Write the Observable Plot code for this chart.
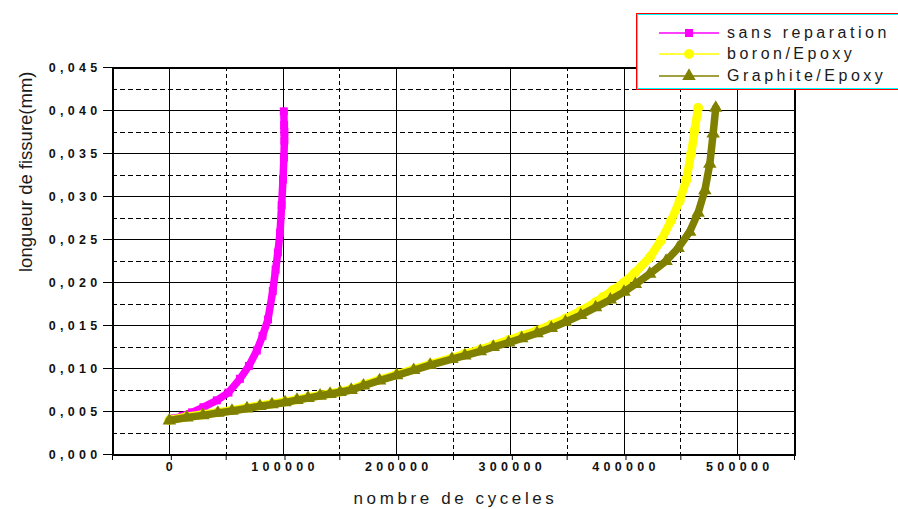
<!DOCTYPE html>
<html>
<head>
<meta charset="utf-8">
<script src="https://cdn.jsdelivr.net/npm/d3@7"></script>
<script src="https://cdn.jsdelivr.net/npm/@observablehq/plot@0.6"></script>
<style>
  body { margin: 0; background: #fff; }
  #wrap { position: relative; width: 898px; height: 509px; overflow: hidden; background: #fff;
          font-family: "Liberation Sans", Arial, sans-serif; }
  #wrap svg { display: block; }
  g[aria-label="x-axis tick label"] text,
  g[aria-label="y-axis tick label"] text { letter-spacing: 4.3px; }
  #legend { position: absolute; left: 636px; top: 13px; width: 290px; height: 77px;
            box-sizing: border-box; border: 1px solid #ff0000; background: #fff; }
  #legend .inner { position: absolute; left: 0; top: 0; right: 0; bottom: 0; border: 1.5px solid #00ffff; }
  .row { position: absolute; left: 0; height: 20px; display: flex; align-items: center; }
  .row svg { position: absolute; left: 21px; top: 0; }
  .row span { position: absolute; left: 90px; top: 0; line-height: 20px; font-size: 16px;
              letter-spacing: 3.5px; color: #1a1a1a; white-space: nowrap; }
</style>
</head>
<body>
<div id="wrap"></div>
<script>
// ---- data ----
const seriesNames = ["sans reparation", "boron/Epoxy", "Graphite/Epoxy"];
const seriesColors = ["#ff00ff", "#ffff00", "#808000"];
const seriesSymbols = ["square", "circle", "triangle"];

const sansN = [5000, 11900, 20000, 30000, 41800, 52000, 62100, 70000, 77000, 82000, 86800,
  91000, 93500, 95500, 97400, 98800, 100000, 100800, 101200, 101200, 101000, 100700];
const sansA = [0.0042, 0.0045, 0.0049, 0.0055, 0.0063, 0.0072, 0.0088, 0.0103, 0.0121, 0.0138, 0.0157,
  0.0190, 0.0215, 0.0235, 0.0258, 0.0290, 0.0320, 0.0345, 0.0365, 0.0375, 0.0383, 0.0399];

const boronN = [0, 15400, 29500, 42700, 55100, 68300, 79700, 90300, 101800, 112300, 122000, 132600,
  141400, 150300, 160000, 170800, 185000, 200000, 215000, 229500, 248600, 260000, 273600, 285000,
  298500, 310000, 323500, 336000, 348500, 362000, 375000, 381500, 390000, 400000, 409400, 422600,
  432600, 441500, 449000, 454700, 459100, 462200, 465200];
const boronA = [0.0040, 0.0044, 0.00465, 0.0049, 0.00515, 0.00545, 0.0057, 0.0059, 0.00615, 0.0064,
  0.00665, 0.0069, 0.0071, 0.0073, 0.0076, 0.0081, 0.0087, 0.0093, 0.0099, 0.0105, 0.0112, 0.0117,
  0.0122, 0.0127, 0.0133, 0.0138, 0.0144, 0.0151, 0.0158, 0.0167, 0.0177, 0.0183, 0.0191, 0.0200,
  0.0211, 0.0229, 0.0249, 0.0272, 0.0295, 0.0319, 0.0350, 0.0377, 0.0403];

const graphN = [0, 15400, 29500, 42700, 55100, 68300, 79700, 90300, 101800, 112300, 122000, 132600,
  141400, 150300, 160000, 170800, 185000, 200000, 215000, 229500, 248600, 260000, 273600, 285000,
  298500, 310000, 323500, 336000, 348500, 362000, 375000, 388000, 400000, 410000, 422600,
  437000, 447600, 457800, 465200, 471100, 475500, 478400, 480700];
const graphA = [0.00395, 0.0043, 0.00455, 0.00483, 0.00506, 0.00535, 0.00562, 0.00582, 0.00605,
  0.00632, 0.00656, 0.00683, 0.00703, 0.00724, 0.0075, 0.0080, 0.0086, 0.0092, 0.0098, 0.0104,
  0.0111, 0.0115, 0.0120, 0.0125, 0.0130, 0.0135, 0.0141, 0.0147, 0.0154, 0.0162, 0.0171, 0.0180,
  0.0189, 0.0198, 0.0210, 0.0225, 0.0240, 0.0259, 0.0281, 0.0307, 0.0338, 0.0373, 0.0403];

// ---- axes / ticks ----
const xMajor = [0, 100000, 200000, 300000, 400000, 500000];
const xMinor = [-50000, 50000, 150000, 250000, 350000, 450000, 550000];
const yMajor = [0, 0.005, 0.010, 0.015, 0.020, 0.025, 0.030, 0.035, 0.040, 0.045];
const yMinor = [0.0025, 0.0075, 0.0125, 0.0175, 0.0225, 0.0275, 0.0325, 0.0375, 0.0425];
const xDomain = [-50000, 550000];
const yDomain = [0, 0.045];
const xTitle = ["nombre de cyceles"];
const yTitle = ["longueur de fissure(mm)"];

const toRows = (N, A) => N.map((n, i) => ({n, a: A[i]}));
const sans = toRows(sansN, sansA);
const boron = toRows(boronN, boronA);
const graph = toRows(graphN, graphA);
const fmtY = d => d3.format(".3f")(d).replace(".", ",");

const plot = Plot.plot({
  width: 898,
  height: 509,
  marginLeft: 112,
  marginRight: 104,
  marginTop: 67,
  marginBottom: 55,
  x: {domain: xDomain},
  y: {domain: yDomain},
  style: {fontFamily: "Liberation Sans, Arial, sans-serif", background: "#fff", color: "#000"},
  marks: [
    Plot.ruleX(xMinor.filter(d => d > xDomain[0] && d < xDomain[1]), {stroke: "#000", strokeDasharray: "4,3", shapeRendering: "crispEdges"}),
    Plot.ruleY(yMinor, {stroke: "#000", strokeDasharray: "5,3", shapeRendering: "crispEdges"}),
    Plot.ruleX(xMajor, {stroke: "#000", strokeWidth: 1, shapeRendering: "crispEdges"}),
    Plot.ruleY(yMajor, {stroke: "#000", strokeWidth: 1, shapeRendering: "crispEdges"}),
    Plot.frame({stroke: "#000", strokeWidth: 2, shapeRendering: "crispEdges"}),
    Plot.axisX(xMajor, {tickSize: 6, tickPadding: 2, tickFormat: d => String(d), fontSize: 12.5, fontWeight: "bold", fill: "#111", dx: 2, label: null}),
    Plot.axisX(xMinor, {tickSize: 6, tickFormat: () => "", label: null}),
    Plot.axisY(yMajor, {tickSize: 9, tickPadding: 2, tickFormat: fmtY, fontSize: 12.5, fontWeight: "bold", fill: "#111", label: null}),
    Plot.text(xTitle, {text: d => d, frameAnchor: "bottom", dy: 44, dx: 2, fontSize: 17, lineAnchor: "middle", fill: "#1a1a1a"}),
    Plot.text(yTitle, {text: d => d, frameAnchor: "left", rotate: -90, dx: -86, dy: 11, fontSize: 18.5, lineAnchor: "middle", fill: "#1a1a1a"}),
    // sans reparation
    Plot.line(sans, {x: "n", y: "a", stroke: seriesColors[0], strokeWidth: 7.5}),
    Plot.dot(sans, {x: "n", y: "a", symbol: seriesSymbols[0], r: 4.5, fill: seriesColors[0], stroke: "none"}),
    // boron/Epoxy
    Plot.line(boron, {x: "n", y: "a", stroke: seriesColors[1], strokeWidth: 8.5}),
    Plot.dot(boron, {x: "n", y: "a", symbol: seriesSymbols[1], r: 5, fill: seriesColors[1], stroke: "none"}),
    // Graphite/Epoxy
    Plot.line(graph, {x: "n", y: "a", stroke: seriesColors[2], strokeWidth: 7.5}),
    Plot.dot(graph, {x: "n", y: "a", symbol: seriesSymbols[2], r: 5, fill: seriesColors[2], stroke: "none"})
  ]
});

const wrap = document.getElementById("wrap");
wrap.appendChild(plot);
plot.querySelectorAll('g[aria-label="text"] text').forEach(t => {
  if (t.textContent === xTitle[0]) t.style.letterSpacing = "3.6px";
});

// ---- legend ----
const legend = document.createElement("div");
legend.id = "legend";
legend.innerHTML = '<div class="inner"></div>';
const symMap = {square: d3.symbolSquare, circle: d3.symbolCircle, triangle: d3.symbolTriangle};
const rowCenters = [18.7, 40.3, 62];
seriesNames.forEach((name, i) => {
  const row = document.createElement("div");
  row.className = "row";
  row.style.top = (rowCenters[i] - 10) + "px";
  const r = [4.5, 5, 5][i];
  const path = d3.symbol(symMap[seriesSymbols[i]], r * r * Math.PI)();
  row.innerHTML =
    `<svg width="62" height="20"><line x1="1" y1="10" x2="61" y2="10" stroke="${seriesColors[i]}" stroke-width="1.3"/>` +
    `<path transform="translate(31,10)" d="${path}" fill="${seriesColors[i]}"/></svg>` +
    `<span>${name}</span>`;
  legend.appendChild(row);
});
wrap.appendChild(legend);
</script>
</body>
</html>
